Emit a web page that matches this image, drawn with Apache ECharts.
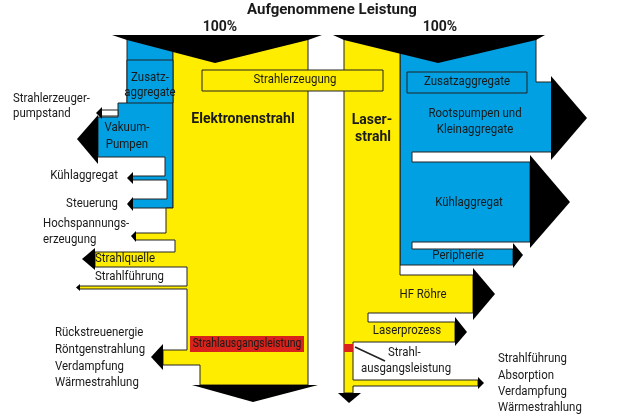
<!DOCTYPE html>
<html>
<head>
<meta charset="utf-8">
<script src="https://cdn.jsdelivr.net/npm/echarts@6/dist/echarts.min.js"></script>
<style>
  html, body { margin: 0; padding: 0; background: #fff; }
  #chart { width: 633px; height: 420px; }
</style>
</head>
<body>
<div id="chart"></div>
<script>
// flow outlines, in picture units (x right, y down)
const blueLeft = [[127, 38], [173, 38], [173, 208], [132, 208], [132, 199], [167, 199], [167, 180], [132, 180],
  [132, 176], [165, 176], [165, 157], [98, 157], [98, 117], [118, 117], [118, 103], [127, 103]]
const yellowLeft = [[173, 38], [308, 38], [308, 385], [200, 385], [200, 365], [163, 365], [163, 350], [187, 350],
  [187, 289], [79, 289], [79, 286], [187, 286], [187, 267], [95, 267], [95, 252], [175, 252], [175, 240],
  [135, 240], [135, 233], [166, 233], [166, 208], [173, 208]]
const blueRight = [[400, 38], [536, 38], [536, 82], [552, 82], [552, 152], [412, 152], [412, 162], [530, 162],
  [530, 242], [412, 242], [412, 249], [513, 249], [513, 265], [400, 265]]
const yellowRight = [[344, 38], [400, 38], [400, 275], [473, 275], [473, 313], [368, 313], [368, 322], [455, 322],
  [455, 342], [353, 342], [353, 380], [478, 380], [478, 386], [353, 386], [353, 393], [344, 393]]

// boxes [x0, y0, x1, y1]
const blueBoxes = [[127, 60, 173, 103], [407, 72, 527, 93]]
const yellowBoxes = [[202, 70, 383, 91]]
const redBoxes = [[190, 336, 304, 352], [344, 344, 353, 352]]
const whiteBoxes = [[101, 110, 118, 116]]

// arrow heads and funnels
const blackShapes = [
  [[112, 35], [322, 35], [308, 40], [215, 63], [127, 40]],
  [[333, 35], [545, 35], [536, 40], [438, 63], [344, 40]],
  [[192, 385], [318, 385], [253, 402]],
  [[338, 393], [361, 393], [349, 403]],
  [[102, 107], [96, 113], [102, 119]],
  [[98, 115], [77, 139], [98, 164]],
  [[133, 172], [127, 178], [133, 184]],
  [[133, 197], [127, 204], [133, 211]],
  [[136, 231], [131, 236], [136, 242]],
  [[95, 248], [82, 259], [95, 270]],
  [[80, 284], [76, 287.5], [80, 291]],
  [[163, 344], [151, 357], [163, 370]],
  [[551, 76], [587, 118], [551, 160]],
  [[530, 155], [570, 202], [530, 248]],
  [[513, 243], [523, 255], [513, 268]],
  [[473, 268], [495, 294], [473, 320]],
  [[455, 317], [467, 332], [455, 346]],
  [[478, 377], [484, 383], [478, 389]]
]
const pointerLine = [[355, 347], [385, 361]]

// labels [x, y, text]
const leftLabels = [
  [13, 99, 'Strahlerzeuger-'], [13, 114, 'pumpstand'],
  [43, 224, 'Hochspannungs-'], [43, 240, 'erzeugung'],
  [95, 259, 'Strahlquelle'], [95, 277, 'Strahlführung'],
  [55, 333, 'Rückstreuenergie'], [55, 350, 'Röntgenstrahlung'], [55, 367, 'Verdampfung'], [55, 383, 'Wärmestrahlung'],
  [388, 353, 'Strahl-'], [361, 369, 'ausgangsleistung'],
  [498, 359, 'Strahlführung'], [498, 376, 'Absorption'], [498, 392, 'Verdampfung'], [498, 408, 'Wärmestrahlung']
]
const rightLabels = [[118, 176, 'Kühlaggregat'], [118, 204, 'Steuerung']]
const centerLabels = [
  [150, 78, 'Zusatz-'], [150, 93, 'aggregate'],
  [127, 128, 'Vakuum-'], [127, 145, 'Pumpen'],
  [295, 80, 'Strahlerzeugung'],
  [467, 82, 'Zusatzaggregate'], [475, 114, 'Rootspumpen und'], [475, 130, 'Kleinaggregate'],
  [469, 203, 'Kühlaggregat'], [458, 256, 'Peripherie'], [423, 295, 'HF Röhre'], [407, 331, 'Laserprozess']
]
const redLabel = [[247, 344, 'Strahlausgangsleistung']]
const boldLabels = [
  [220, 27, '100%'], [440, 27, '100%'],
  [243, 119, 'Elektronenstrahl'], [372, 120, 'Laser-'], [373, 137, 'strahl']
]
const titleLabel = [[332, 10, 'Aufgenommene Leistung']]

const BLUE = '#00a0e2'
const YELLOW = '#ffed00'
const RED = '#d8231c'
const INK = '#1a1a1a'
const FONT = "Roboto, 'Liberation Sans', sans-serif"

const boxToPoly = b => [[b[0], b[1]], [b[2], b[1]], [b[2], b[3]], [b[0], b[3]]]

const polySeries = (shapes, fill, stroke, lineWidth, z) => ({
  type: 'custom',
  coordinateSystem: 'cartesian2d',
  silent: true,
  z: z,
  clip: false,
  data: shapes.map(s => s[0]),
  renderItem: (params, api) => ({
    type: 'polygon',
    shape: { points: shapes[params.dataIndex].map(p => api.coord(p)) },
    style: { fill: fill, stroke: stroke, lineWidth: lineWidth }
  })
})

// narrow the glyphs a little, the original uses a condensed face
const textSeries = (labels, align, size, weight, squeeze, z) => ({
  type: 'custom',
  coordinateSystem: 'cartesian2d',
  silent: true,
  z: z,
  clip: false,
  data: labels.map(l => [l[0], l[1]]),
  renderItem: (params, api) => {
    const p = api.coord([api.value(0), api.value(1)])
    return {
      type: 'text',
      x: p[0],
      y: p[1],
      scaleX: squeeze,
      style: {
        x: 0,
        y: 0,
        text: labels[params.dataIndex][2],
        fill: INK,
        fontSize: size,
        fontWeight: weight,
        fontFamily: FONT,
        align: align,
        verticalAlign: 'middle'
      }
    }
  }
})

const chart = echarts.init(document.getElementById('chart'))
chart.setOption({
  animation: false,
  grid: { left: 0, right: 0, top: 0, bottom: 0 },
  xAxis: { type: 'value', min: 0, max: 633, show: false },
  yAxis: { type: 'value', min: 0, max: 420, inverse: true, show: false },
  series: [
    polySeries([blueLeft, blueRight], BLUE, '#222', 1, 1),
    polySeries([yellowLeft, yellowRight], YELLOW, '#222', 1, 1),
    polySeries(blueBoxes.map(boxToPoly), BLUE, '#222', 1, 2),
    polySeries(yellowBoxes.map(boxToPoly), YELLOW, '#222', 1, 2),
    polySeries(whiteBoxes.map(boxToPoly), '#fff', '#222', 1, 2),
    polySeries(redBoxes.map(boxToPoly), RED, null, 0, 2),
    polySeries(blackShapes, '#000', null, 0, 3),
    {
      type: 'lines',
      coordinateSystem: 'cartesian2d',
      silent: true,
      z: 3,
      data: [{ coords: pointerLine }],
      lineStyle: { color: '#222', width: 1.5, opacity: 1 }
    },
    textSeries(leftLabels, 'left', 13, 'normal', 0.88, 4),
    textSeries(rightLabels, 'right', 13, 'normal', 0.88, 4),
    textSeries(centerLabels, 'center', 13, 'normal', 0.88, 4),
    textSeries(redLabel, 'center', 13, 'normal', 0.8, 4),
    textSeries(boldLabels, 'center', 14, 'bold', 1, 4),
    textSeries(titleLabel, 'center', 15, 'bold', 1, 4)
  ]
})
</script>
</body>
</html>
